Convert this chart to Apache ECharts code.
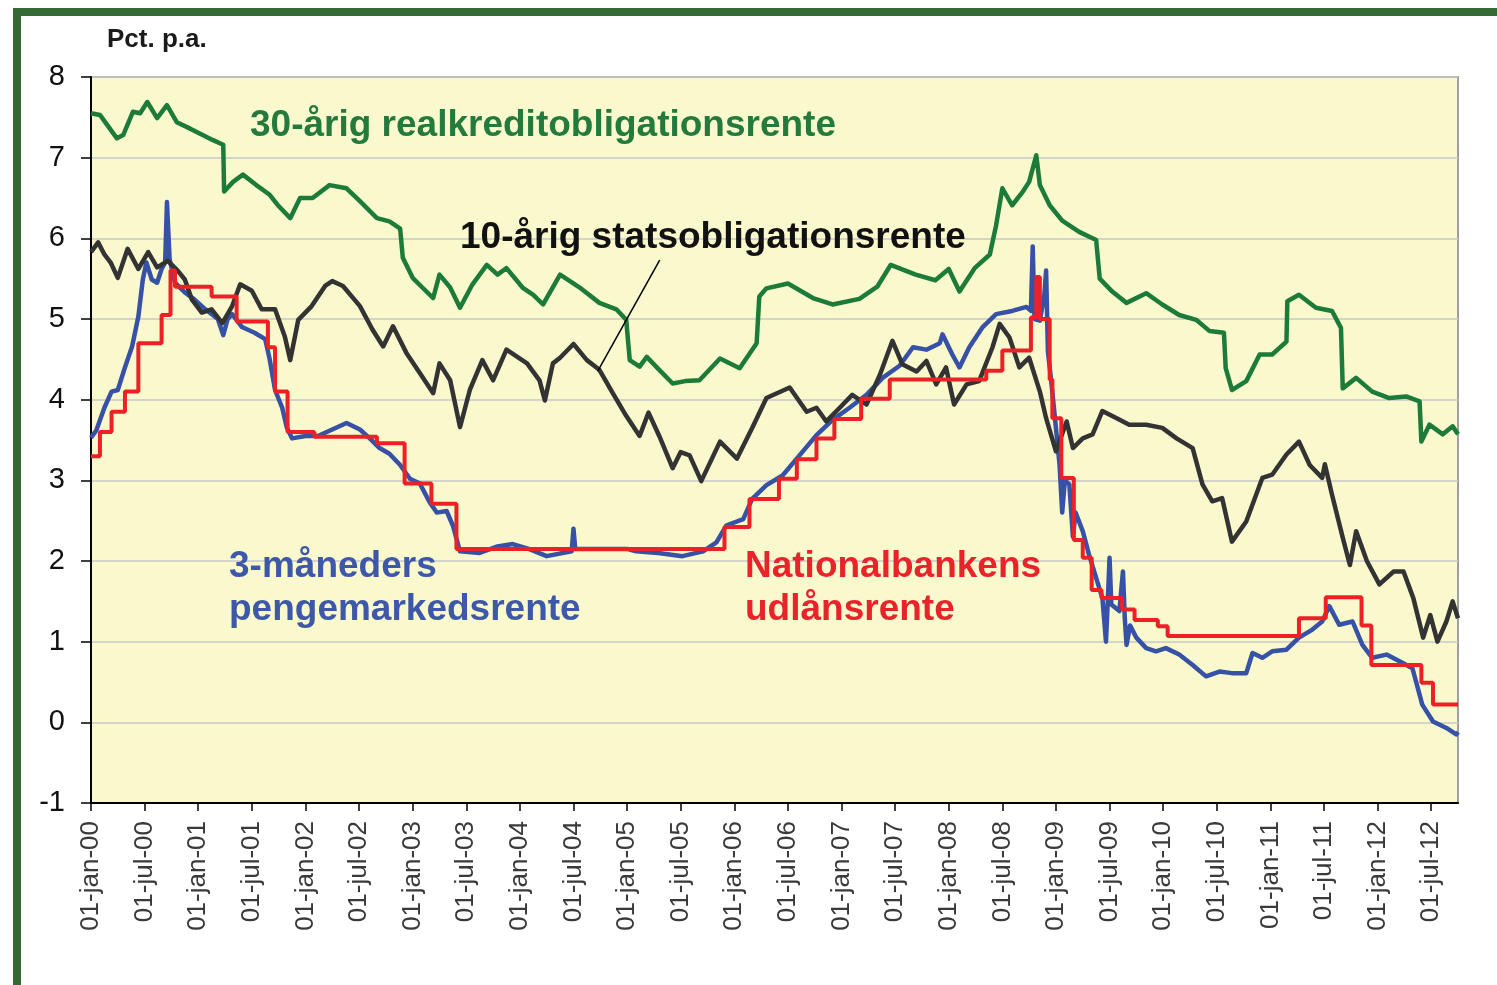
<!DOCTYPE html>
<html>
<head>
<meta charset="utf-8">
<script src="https://cdn.jsdelivr.net/npm/echarts@6/dist/echarts.min.js"></script>
<style>
  html, body { margin: 0; padding: 0; background: #ffffff; }
  #chart { width: 1497px; height: 985px; }
</style>
</head>
<body>
<div id="chart"></div>
<script>
// x = months since 01-jan-2000, y = pct. p.a.
const monthNames = ['jan','feb','mar','apr','maj','jun','jul','aug','sep','okt','nov','dec'];
const yTicks = [-1, 0, 1, 2, 3, 4, 5, 6, 7, 8];

// 30-årig realkreditobligationsrente
const realkredit = [
  [0,7.55],[1,7.53],[2.9,7.24],[3.6,7.28],[4.7,7.57],[5.5,7.55],[6.3,7.69],[7.4,7.49],[8.5,7.65],[9.6,7.44],
  [11.1,7.36],[12.5,7.28],[13.6,7.22],[14.8,7.16],[14.9,6.58],[15.9,6.7],[17,6.79],[18.5,6.66],[20,6.54],[21,6.4],
  [22.3,6.25],[23.4,6.5],[24.8,6.5],[26.7,6.66],[28.6,6.62],[30.1,6.46],[32,6.25],[33.4,6.21],[34.6,6.12],[34.9,5.76],
  [36,5.51],[37,5.4],[38.3,5.26],[39,5.55],[40.2,5.39],[41.3,5.14],[42.7,5.43],[44.3,5.67],[45.5,5.55],[46.5,5.63],
  [48.3,5.39],[49.5,5.3],[50.6,5.18],[52.5,5.55],[54.7,5.39],[56.9,5.2],[58.8,5.12],[59.9,4.99],[60.3,4.49],[61.4,4.41],
  [62.2,4.53],[63.6,4.37],[65.1,4.2],[66.5,4.23],[68.1,4.24],[70.4,4.51],[72.6,4.39],[74.5,4.7],[74.8,5.28],[75.6,5.38],
  [78,5.44],[80.8,5.26],[83,5.18],[86,5.25],[88,5.4],[89.5,5.67],[92.3,5.55],[94.5,5.48],[96,5.62],[97.2,5.34],
  [98.9,5.63],[100.6,5.8],[101.3,6.16],[102,6.62],[103.1,6.41],[104.3,6.58],[105,6.7],[105.8,7.03],[106.2,6.66],[107.3,6.41],
  [108.7,6.22],[110.6,6.08],[112.5,5.98],[112.9,5.5],[114.3,5.34],[115.9,5.2],[118.1,5.32],[119.9,5.18],[121.8,5.05],[123.7,4.99],
  [125.2,4.85],[126.8,4.83],[127,4.39],[127.7,4.12],[129.3,4.23],[130.8,4.56],[132.2,4.56],[133.8,4.72],[133.9,5.22],[135.2,5.3],
  [137.1,5.14],[138.9,5.1],[139.9,4.89],[140.1,4.14],[141.6,4.27],[143.4,4.1],[145.3,4.02],[147.2,4.04],[148.7,3.98],[148.9,3.48],
  [149.8,3.69],[151.3,3.57],[152.4,3.67],[153,3.57]
];

// 10-årig statsobligationsrente
const statsobl = [
  [0,5.83],[0.8,5.95],[1.5,5.8],[2.2,5.7],[3,5.51],[4.1,5.87],[5.3,5.62],[6.4,5.83],[7.4,5.64],[8.6,5.72],
  [9.7,5.6],[10.5,5.49],[11.3,5.24],[12.4,5.08],[13.5,5.12],[14.7,4.95],[15.8,5.16],[16.7,5.43],[18,5.35],[19.1,5.12],
  [20.6,5.12],[21.7,4.78],[22.3,4.49],[23.2,4.99],[24.7,5.16],[26.2,5.41],[27,5.47],[28.2,5.41],[30.1,5.16],[31.5,4.87],
  [32.7,4.66],[33.8,4.91],[35.3,4.58],[36.8,4.33],[38.3,4.08],[39,4.45],[40.2,4.24],[41.3,3.66],[42.4,4.12],[43.8,4.49],
  [45,4.24],[46.5,4.62],[48.8,4.45],[50.2,4.24],[50.8,3.99],[51.7,4.45],[52.5,4.52],[54,4.69],[55.5,4.49],[56.9,4.37],
  [58.4,4.08],[59.9,3.8],[61.4,3.55],[62.4,3.84],[63.6,3.55],[65.1,3.15],[66,3.35],[67,3.31],[68.3,2.99],[70.4,3.48],
  [72.3,3.27],[74,3.65],[75.6,4.02],[78.2,4.15],[80.1,3.85],[81.2,3.9],[82.3,3.73],[83.8,3.9],[85.2,4.06],[86.8,3.94],
  [88.3,4.31],[89.7,4.73],[90.8,4.44],[92.4,4.35],[93.5,4.48],[94.6,4.19],[95.7,4.4],[96.6,3.94],[98,4.19],[99.4,4.23],
  [100.9,4.65],[101.7,4.94],[102.8,4.77],[103.9,4.4],[105,4.52],[106.2,4.1],[106.9,3.77],[108,3.36],[109.2,3.73],[109.9,3.4],
  [111,3.52],[112.1,3.57],[113.2,3.86],[114.8,3.77],[116.2,3.69],[118.1,3.69],[119.9,3.65],[121.5,3.52],[123.3,3.4],[124.4,2.95],
  [125.5,2.74],[126.6,2.78],[127.7,2.24],[129.3,2.49],[131.1,3.03],[132.2,3.07],[133.8,3.32],[135.2,3.48],[136.4,3.19],[137.8,3.03],
  [138.1,3.2],[138.9,2.82],[140.1,2.29],[140.9,1.95],[141.6,2.37],[142.8,2.0],[144.2,1.71],[145.8,1.87],[146.9,1.87],[148,1.54],
  [149.1,1.05],[149.9,1.33],[150.7,1.0],[151.7,1.25],[152.4,1.5],[153,1.29]
];

// 3-måneders pengemarkedsrente
const pengemarked = [
  [0,3.53],[0.6,3.62],[1.5,3.9],[2.3,4.1],[3,4.12],[3.8,4.4],[4.6,4.66],[5.3,5.03],[5.8,5.49],[6.2,5.7],
  [6.8,5.49],[7.4,5.45],[7.9,5.62],[8.3,5.7],[8.5,6.45],[8.8,5.74],[9.4,5.45],[10.5,5.33],[11.6,5.24],[12.8,5.12],
  [14.2,5.0],[14.8,4.8],[15.3,5.0],[15.8,5.06],[16.9,4.9],[18.3,4.83],[19.5,4.75],[20,4.5],[20.6,4.12],[21.4,3.9],
  [21.9,3.66],[22.5,3.52],[24,3.55],[25.4,3.55],[27,3.63],[28.6,3.71],[30.1,3.63],[31.2,3.52],[32.3,3.4],[33.4,3.33],
  [34.6,3.19],[35.7,3.02],[36.8,2.96],[37.9,2.73],[38.7,2.6],[39.8,2.62],[40.5,2.44],[41.3,2.12],[43.5,2.1],[45.5,2.18],
  [47.2,2.21],[49,2.15],[51,2.06],[53.8,2.12],[54,2.4],[54.2,2.15],[57,2.15],[60,2.15],[61,2.12],[63.5,2.1],
  [66.2,2.06],[68.5,2.12],[70,2.23],[71.1,2.44],[73,2.52],[74,2.77],[75.6,2.94],[77.4,3.06],[79.3,3.31],[81.2,3.56],
  [83,3.75],[84.9,3.9],[86.8,4.06],[88.6,4.27],[90.5,4.42],[92,4.65],[93.5,4.62],[95,4.7],[95.3,4.81],[96.4,4.56],
  [97.2,4.4],[98.3,4.65],[99.8,4.9],[101.3,5.06],[103.1,5.1],[104.7,5.15],[105.2,5.1],[105.4,5.9],[105.6,5.0],[106.2,4.98],
  [106.7,5.3],[106.9,5.6],[107.1,4.6],[107.5,4.2],[108,3.65],[108.4,3.2],[108.7,2.6],[109,3.0],[109.5,2.95],[109.9,2.3],
  [110.2,2.6],[111,2.37],[111.7,2.08],[112.5,1.79],[113.2,1.54],[113.6,1.0],[113.8,1.5],[114,2.04],[114.2,1.46],[115.1,1.38],
  [115.5,1.87],[115.7,1.3],[115.9,0.96],[116.3,1.2],[117,1.05],[118.1,0.92],[119.2,0.88],[120.3,0.92],[121.8,0.84],[123.3,0.71],
  [124.8,0.57],[126.3,0.63],[127.7,0.61],[129.3,0.61],[130,0.86],[131.1,0.8],[132.2,0.88],[133.8,0.9],[135.2,1.05],[136.7,1.15],
  [137.8,1.25],[138.6,1.44],[139.7,1.21],[141.2,1.25],[142.3,0.96],[143.4,0.8],[145,0.84],[146.4,0.76],[147.9,0.67],[149,0.22],
  [150.2,0.01],[151.7,-0.07],[152.8,-0.15],[153,-0.12]
];

// Nationalbankens udlånsrente (step: level valid from month)
const udlaan = [
  [0,3.30],[1.0,3.60],[2.3,3.85],[3.8,4.10],[5.3,4.70],[7.9,5.05],[8.9,5.60],[9.4,5.40],[13.5,5.28],[16.3,4.97],
  [19.8,4.65],[20.6,4.10],[22.0,3.60],[25.0,3.54],[32.0,3.46],[35.1,2.96],[38.1,2.71],[40.9,2.15],[70.9,2.42],[73.7,2.77],
  [77.0,3.02],[79.0,3.26],[81.2,3.52],[83.2,3.76],[86.2,4.01],[89.4,4.25],[100.2,4.36],[102.0,4.61],[105.2,5.02],[105.8,5.52],
  [106.2,5.00],[107.3,4.25],[107.6,3.77],[108.6,3.03],[110.0,2.26],[111.0,2.04],[112.0,1.64],[113.1,1.54],[115.4,1.40],[116.8,1.27],
  [119.4,1.19],[120.5,1.07],[135.2,1.29],[138.2,1.55],[142.2,1.20],[143.3,0.71],[148.9,0.49],[150.2,0.22],[153,0.22]
];

const FONT = '"Liberation Sans", Arial, sans-serif';

function xLabel(v) {
  const m = Math.round(v);
  if (m % 6 !== 0) return '';
  const yr = 2000 + Math.floor(m / 12);
  const mon = monthNames[m % 12];
  return '01-' + mon + '-' + String(yr % 100).padStart(2, '0');
}

const chart = echarts.init(document.getElementById('chart'), null, { renderer: 'canvas' });

function label(text, x, y, color) {
  return {
    type: 'text', x: x, y: y, z: 100,
    style: { text: text, font: 'bold 37px ' + FONT, fill: color, textVerticalAlign: 'middle', verticalAlign: 'middle' }
  };
}

const option = {
  backgroundColor: '#ffffff',
  animation: false,
  grid: {
    left: 91, top: 77, right: 39, bottom: 182,
    show: true, backgroundColor: '#FAF8CD', borderColor: '#a0a0a0', borderWidth: 2
  },
  xAxis: {
    type: 'value', min: 0, max: 153, interval: 6,
    axisLine: { show: true, onZero: false, lineStyle: { color: '#000', width: 2 } },
    axisTick: { show: true, length: 8, lineStyle: { color: '#000', width: 1.5 } },
    splitLine: { show: false },
    axisLabel: {
      rotate: 90, margin: 18, showMaxLabel: false,
      color: '#3a3a3a', fontFamily: FONT, fontSize: 26,
      formatter: xLabel
    }
  },
  yAxis: {
    type: 'value', min: yTicks[0], max: yTicks[yTicks.length - 1], interval: 1,
    axisLine: { show: true, lineStyle: { color: '#000', width: 2 } },
    axisTick: { show: true, length: 10, lineStyle: { color: '#000', width: 1.5 } },
    splitLine: { show: true, lineStyle: { color: '#c8c8c8', width: 1.5 } },
    axisLabel: { color: '#111', fontFamily: FONT, fontSize: 29, margin: 26 }
  },
  series: [
    {
      name: '30-årig realkreditobligationsrente', type: 'line', data: realkredit,
      showSymbol: false, symbol: 'none', lineStyle: { color: '#1d7b3a', width: 4.5, join: 'round' }, z: 2,
      markLine: {
        silent: true, symbol: ['none', 'none'], label: { show: false },
        lineStyle: { color: '#000', width: 1.5, type: 'solid' },
        data: [[{ coord: [63.65, 5.73] }, { coord: [56.7, 4.35] }]]
      }
    },
    {
      name: '3-måneders pengemarkedsrente', type: 'line', data: pengemarked,
      showSymbol: false, symbol: 'none', lineStyle: { color: '#3651a6', width: 4.5, join: 'round' }, z: 3
    },
    {
      name: '10-årig statsobligationsrente', type: 'line', data: statsobl,
      showSymbol: false, symbol: 'none', lineStyle: { color: '#333333', width: 4.5, join: 'round' }, z: 4
    },
    {
      name: 'Nationalbankens udlånsrente', type: 'line', data: udlaan, step: 'end',
      showSymbol: false, symbol: 'none', lineStyle: { color: '#ee2026', width: 4 }, z: 5
    }
  ],
  graphic: [
    { type: 'rect', shape: { x: 13, y: 8, width: 1484, height: 8 }, style: { fill: '#356a35' }, z: 100 },
    { type: 'rect', shape: { x: 13, y: 8, width: 8, height: 977 }, style: { fill: '#356a35' }, z: 100 },
    { type: 'text', x: 107, y: 40, z: 100, style: { text: 'Pct. p.a.', font: 'bold 26px ' + FONT, fill: '#1a1a1a', textVerticalAlign: 'middle', verticalAlign: 'middle' } },
    label('30-årig realkreditobligationsrente', 250, 126, '#237a3c'),
    label('10-årig statsobligationsrente', 460, 238, '#111111'),
    label('3-måneders', 229, 567, '#3d58a8'),
    label('pengemarkedsrente', 229, 610, '#3d58a8'),
    label('Nationalbankens', 745, 567, '#e8232a'),
    label('udlånsrente', 745, 610, '#e8232a')
  ]
};

chart.setOption(option);
</script>
</body>
</html>
